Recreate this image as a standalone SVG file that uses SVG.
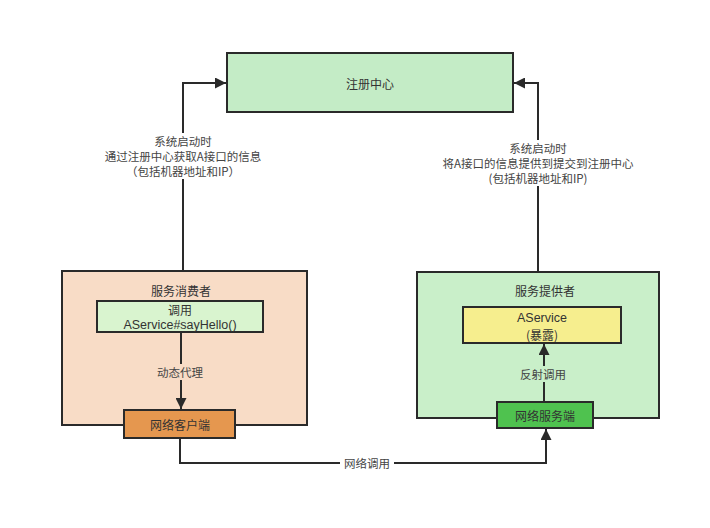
<svg xmlns="http://www.w3.org/2000/svg" width="710" height="528" viewBox="0 0 710 528">
<style>
.box{stroke:#2a2a2a;stroke-width:2}
.t{font-family:"Noto Sans CJK SC","Liberation Sans",sans-serif;font-size:12px;fill:#333;text-anchor:middle;dominant-baseline:central}
.lat{font-family:"Liberation Sans","Noto Sans CJK SC",sans-serif;font-size:12.5px;fill:#333;text-anchor:middle;dominant-baseline:central}
.lbl{font-family:"Noto Sans CJK SC","Liberation Sans",sans-serif;font-size:11.5px;fill:#444;text-anchor:middle;dominant-baseline:central}
.c{fill:none;stroke:#2a2a2a;stroke-width:2}
</style>
<defs>
<marker id="ah" viewBox="0 0 10 10" refX="10" refY="5" markerWidth="5.5" markerHeight="5.5" orient="auto" markerUnits="strokeWidth">
<path d="M0,0 L10,5 L0,10 z" fill="#2a2a2a"/>
</marker>
</defs>
<rect width="710" height="528" fill="#ffffff"/>
<g id="registry">
<rect class="box" x="227" y="53" width="286" height="59" fill="#c4ecc6"/>
<text class="t" x="370" y="83">注册中心</text>
</g>
<g id="consumer">
<rect class="box" x="62" y="271" width="245" height="154" fill="#f8dcc6"/>
<text class="t" x="181" y="290">服务消费者</text>
</g>
<g id="call">
<rect class="box" x="97" y="301" width="166" height="31" fill="#d9f4cf"/>
<text class="t" x="180" y="309">调用</text>
<text class="lat" x="180" y="325">AService#sayHello()</text>
</g>
<g id="client">
<rect class="box" x="124" y="410" width="111" height="28" fill="#e5974f"/>
<text class="t" x="180" y="424">网络客户端</text>
</g>
<g id="provider">
<rect class="box" x="417" y="272" width="242" height="146" fill="#c9efc9"/>
<text class="t" x="545" y="290">服务提供者</text>
</g>
<g id="aservice">
<rect class="box" x="463" y="307" width="158" height="36" fill="#f6ee8e"/>
<text class="lat" x="542" y="318">AService</text>
<text class="t" x="542" y="334">(暴露)</text>
</g>
<g id="server">
<rect class="box" x="497" y="402" width="96" height="26" fill="#4fc24f"/>
<text class="t" x="545" y="415">网络服务端</text>
</g>
<g id="connectors">
<path class="c" d="M183,271 V83 H226" marker-end="url(#ah)"/>
<rect x="100" y="133" width="166" height="46" fill="#ffffff"/>
<text class="lbl" x="183" y="141">系统启动时</text>
<text class="lbl" x="183" y="156">通过注册中心获取A接口的信息</text>
<text class="lbl" x="183" y="171">（包括机器地址和IP）</text>
<path class="c" d="M538,272 V83 H514" marker-end="url(#ah)"/>
<rect x="434" y="140" width="210" height="46" fill="#ffffff"/>
<text class="lbl" x="538" y="148">系统启动时</text>
<text class="lbl" x="538" y="163">将A接口的信息提供到提交到注册中心</text>
<text class="lbl" x="538" y="178">(包括机器地址和IP)</text>
<path class="c" d="M181,332 V409" marker-end="url(#ah)"/>
<rect x="152" y="364" width="56" height="16" fill="#f8dcc6"/>
<text class="lbl" x="180" y="372">动态代理</text>
<path class="c" d="M544,402 V344" marker-end="url(#ah)"/>
<rect x="517" y="366" width="54" height="16" fill="#c9efc9"/>
<text class="lbl" x="543" y="374">反射调用</text>
<path class="c" d="M180,438 V463 H546 V429" marker-end="url(#ah)"/>
<rect x="340" y="455" width="54" height="16" fill="#ffffff"/>
<text class="lbl" x="367" y="463">网络调用</text>
</g>
</svg>
